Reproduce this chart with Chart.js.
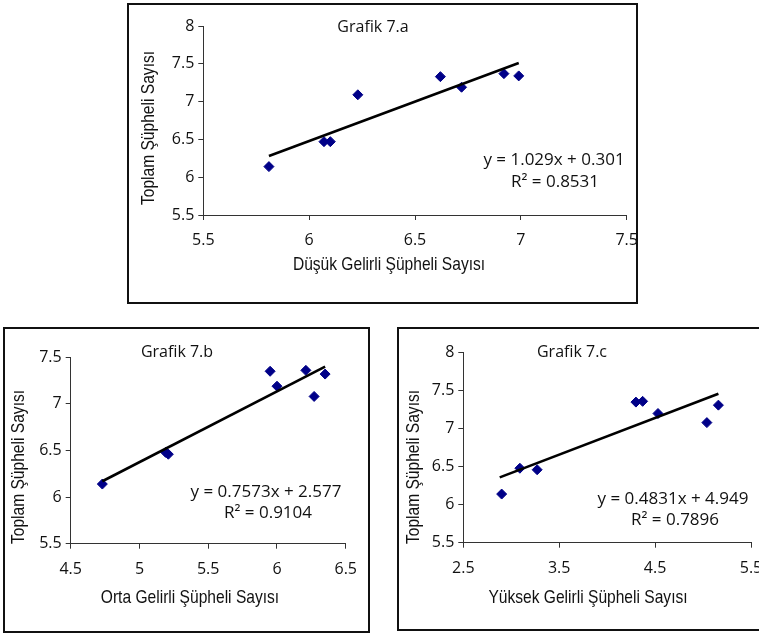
<!DOCTYPE html>
<html>
<head>
<meta charset="utf-8">
<script src="https://cdn.jsdelivr.net/npm/chart.js@4.4.1/dist/chart.umd.min.js"></script>
<style>
body { margin: 0; background: #fff; width: 759px; height: 634px; overflow: hidden; position: relative; }
.box { position: absolute; border: 2px solid #111; overflow: hidden; box-sizing: border-box; background: #fff; }
.box canvas { position: absolute; left: 0; top: 0; }
</style>
</head>
<body>
<div class="box" style="left:127px;top:3px;width:511px;height:301px"><canvas id="chartA" width="545" height="297"></canvas></div>
<div class="box" style="left:3px;top:327px;width:367px;height:306px"><canvas id="chartB" width="363" height="302"></canvas></div>
<div class="box" style="left:397px;top:327px;width:400px;height:304px"><canvas id="chartC" width="400" height="300"></canvas></div>
<script>
// shared y: total suspects (log scale values)
const yTotalA = [6.14, 6.47, 6.47, 7.09, 7.33, 7.19, 7.37, 7.34];
const yTotalB = [6.14, 6.48, 6.46, 7.35, 7.19, 7.36, 7.08, 7.32];
const yTotalC = [6.14, 6.48, 6.46, 7.35, 7.36, 7.20, 7.08, 7.31];

// x: low / middle / high income suspects
const xLow = [5.81, 6.07, 6.10, 6.23, 6.62, 6.72, 6.92, 6.99];
const xMid = [4.73, 5.19, 5.21, 5.95, 6.00, 6.21, 6.27, 6.35];
const xHigh = [2.90, 3.09, 3.27, 4.30, 4.37, 4.53, 5.04, 5.16];

// trendline end points
const trendLowX = [5.81, 6.99], trendLowY = [6.28, 7.51];
const trendMidX = [4.73, 6.35], trendMidY = [6.17, 7.40];
const trendHighX = [2.88, 5.16], trendHighY = [6.36, 7.46];

// axis ranges
const xRangeA = [5.5, 7.5], yRangeA = [5.5, 8];
const xRangeB = [4.5, 6.5], yRangeB = [5.5, 7.5];
const xRangeC = [2.5, 5.5], yRangeC = [5.5, 8];

const titleY = 'Toplam Şüpheli Sayısı';

const pts = (xs, ys) => xs.map((x, i) => ({x: x, y: ys[i]}));

// draws chart title, equation and axis titles
const notesPlugin = {
    id: 'notes',
    afterDraw(chart, args, opts) {
        const ctx = chart.ctx;
        opts.items.forEach(item => {
            ctx.save();
            ctx.fillStyle = '#111';
            ctx.font = item.font;
            ctx.textAlign = 'center';
            ctx.textBaseline = 'middle';
            ctx.translate(item.x, item.y);
            if (item.rotate) ctx.rotate(-Math.PI / 2);
            if (item.narrow) ctx.scale(0.82, 1);
            ctx.fillText(item.text, 0, 0);
            ctx.restore();
        });
    }
};

const TTL = '16px "Open Sans"';
const EQ = '17px "Open Sans"';
const AX = '19px "Liberation Sans"';

function makeChart(id, o) {
    new Chart(document.getElementById(id), {
        type: 'scatter',
        data: {
            datasets: [{
                data: pts(o.trendX, o.trendY),
                showLine: true,
                borderColor: '#000',
                borderWidth: 2.6,
                pointRadius: 0,
                order: 0
            }, {
                data: pts(o.x, o.y),
                pointStyle: 'rectRot',
                pointRadius: 5,
                backgroundColor: '#000088',
                borderColor: '#000088',
                borderWidth: 1,
                order: 1
            }]
        },
        options: {
            responsive: false,
            animation: false,
            layout: { padding: { left: 0, top: o.top, right: o.right, bottom: 0 } },
            plugins: {
                legend: { display: false },
                tooltip: { enabled: false },
                notes: { items: o.notes }
            },
            scales: {
                x: {
                    min: o.xRange[0], max: o.xRange[1],
                    afterFit: s => { s.height = o.xH },
                    border: { color: '#333', width: 1 },
                    grid: { drawOnChartArea: false, tickLength: 5, color: '#333' },
                    ticks: { stepSize: o.xStep, padding: 11, color: '#111', font: { family: 'Open Sans', size: 16 },
                        callback: v => v.toString() }
                },
                y: {
                    min: o.yRange[0], max: o.yRange[1],
                    afterFit: s => { s.width = o.yW },
                    border: { color: '#333', width: 1 },
                    grid: { drawOnChartArea: false, tickLength: 5, color: '#333' },
                    ticks: { stepSize: 0.5, padding: 4, color: '#111', font: { family: 'Open Sans', size: 16 },
                        callback: v => v.toString() }
                }
            }
        },
        plugins: [notesPlugin]
    });
}

makeChart('chartA', {
    x: xLow, y: yTotalA, trendX: trendLowX, trendY: trendLowY,
    xRange: xRangeA, yRange: yRangeA, xStep: 0.5,
    yW: 74.3, xH: 87, top: 21, right: 47.3,
    notes: [
        { text: 'Grafik 7.a', x: 244, y: 22, font: TTL },
        { text: 'y = 1.029x + 0.301', x: 425, y: 155, font: EQ },
        { text: 'R² = 0.8531', x: 426, y: 177, font: EQ },
        { text: 'Düşük Gelirli Şüpheli Sayısı', x: 260, y: 260, font: AX, narrow: true },
        { text: titleY, x: 20, y: 123, font: AX, narrow: true, rotate: true }
    ]
});

makeChart('chartB', {
    x: xMid, y: yTotalB, trendX: trendMidX, trendY: trendMidY,
    xRange: xRangeB, yRange: yRangeB, xStep: 0.5,
    yW: 65.7, xH: 87.3, top: 28.3, right: 20,
    notes: [
        { text: 'Grafik 7.b', x: 172, y: 23, font: TTL },
        { text: 'y = 0.7573x + 2.577', x: 261, y: 163, font: EQ },
        { text: 'R² = 0.9104', x: 263, y: 184, font: EQ },
        { text: 'Orta Gelirli Şüpheli Sayısı', x: 185, y: 269, font: AX, narrow: true },
        { text: titleY, x: 13.5, y: 138, font: AX, narrow: true, rotate: true }
    ]
});

makeChart('chartC', {
    x: xHigh, y: yTotalC, trendX: trendHighX, trendY: trendHighY,
    xRange: xRangeC, yRange: yRangeC, xStep: 1,
    yW: 64.3, xH: 86.3, top: 23.7, right: 48,
    notes: [
        { text: 'Grafik 7.c', x: 173, y: 23, font: TTL },
        { text: 'y = 0.4831x + 4.949', x: 274, y: 170, font: EQ },
        { text: 'R² = 0.7896', x: 276, y: 191, font: EQ },
        { text: 'Yüksek Gelirli Şüpheli Sayısı', x: 189, y: 269, font: AX, narrow: true },
        { text: titleY, x: 14.5, y: 138, font: AX, narrow: true, rotate: true }
    ]
});
</script>
</body>
</html>
